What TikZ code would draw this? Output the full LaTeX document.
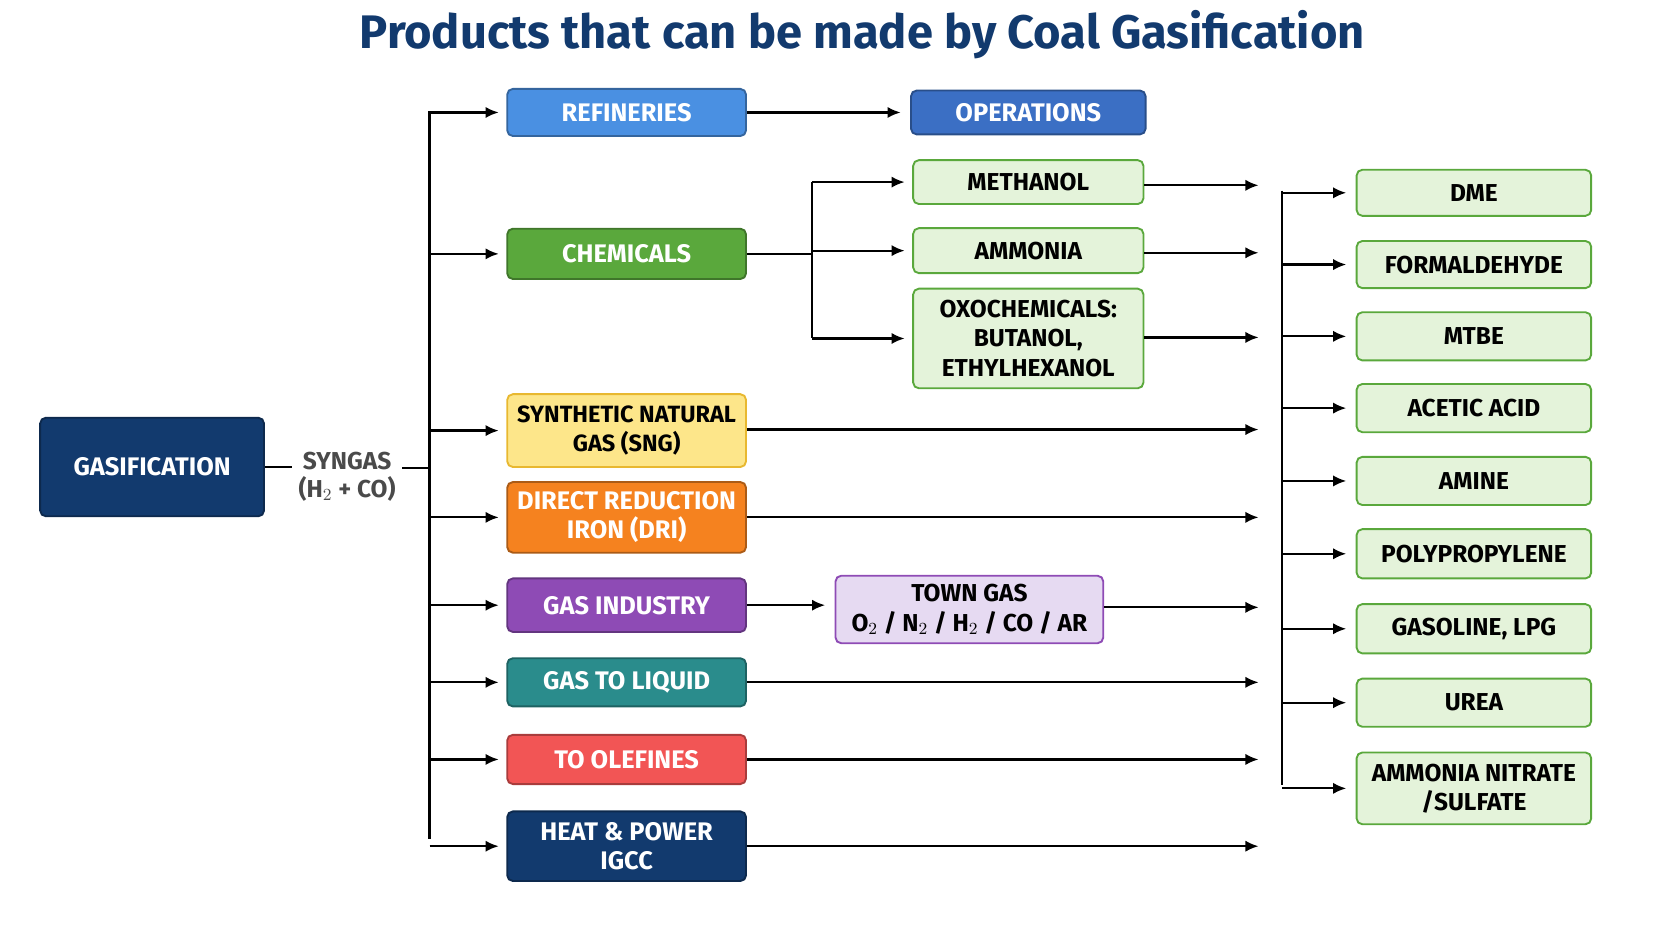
\documentclass[tikz,border=0pt]{standalone}
\usepackage{fontspec}
\setmainfont{Fira Sans}
\usetikzlibrary{arrows.meta}
\definecolor{navy}{HTML}{123A6E}
\definecolor{refblue}{HTML}{4A90E2}
\definecolor{opblue}{HTML}{3B6FC4}
\definecolor{chemgreen}{HTML}{5AA83C}
\definecolor{lightgreen}{HTML}{E4F3DA}
\definecolor{sngyellow}{HTML}{FDE68A}
\definecolor{sngborder}{HTML}{E8B830}
\definecolor{driorange}{HTML}{F5821F}
\definecolor{gaspurple}{HTML}{8E4BB5}
\definecolor{lavender}{HTML}{E6DAF2}
\definecolor{gtlteal}{HTML}{2A8C8C}
\definecolor{olered}{HTML}{F25555}
\definecolor{syngray}{HTML}{4A4A4A}
\tikzset{
  box/.style={draw=#1!70!black, fill=#1, rounded corners=3pt, line width=1pt,
    align=center, inner sep=2pt, font=\fontsize{13.5}{15.5}\selectfont\bfseries, text=white},
  pbox/.style={draw=chemgreen, fill=lightgreen, rounded corners=3pt, line width=1pt,
    align=center, inner sep=2pt, font=\fontsize{13}{15.5}\selectfont\bfseries, text=black},
  arr/.style={-{Latex[length=7pt,width=6pt]}, line width=1.2pt},
  ln/.style={line width=1.2pt},
}
\begin{document}
\begin{tikzpicture}[x=0.02cm,y=-0.02cm]
  \useasboundingbox (0,0) rectangle (1560,878);
  \node[font=\fontsize{25}{29}\selectfont\bfseries, text=navy] (title) at (805,32) {Products that can be made by Coal Gasification};

  % source
  \node[box=navy, minimum width=4.18cm, minimum height=1.84cm] (gas) at (142,436) {GASIFICATION};
  \node[text=syngray, align=center, font=\fontsize{13}{15}\selectfont\bfseries] (syn) at (324,445) {SYNGAS\\(H$_2$ + CO)};
  \coordinate (busA) at (401,437);
  \coordinate (busTop) at (401,104);
  \coordinate (busBot) at (401,783);
  \draw[ln] (gas.east) -- (syn.west |- gas.east);
  \draw[ln] (syn.east |- busA) -- (busA);
  \draw[ln] (busTop) -- (busBot);

  % left column
  \foreach \name/\y/\h/\col/\txt in {
      ref/105/0.88/refblue/REFINERIES,
      chem/237/0.94/chemgreen/CHEMICALS,
      dri/483/1.32/driorange/{DIRECT REDUCTION\\IRON (DRI)},
      gind/565/1.0/gaspurple/GAS INDUSTRY,
      gtl/637/0.9/gtlteal/GAS TO LIQUID,
      ole/709/0.92/olered/TO OLEFINES,
      heat/790/1.3/navy/{HEAT \& POWER\\IGCC}} {
    \node[box=\col, minimum width=4.46cm, minimum height=\h cm] (\name) at (585,\y) {\txt};
    \draw[arr] (busTop |- \name.west) -- ([xshift=-4pt]\name.west);
  }
  \node[box=sngyellow, draw=sngborder, text=black, font=\fontsize{12.5}{15}\selectfont\bfseries, minimum width=4.46cm, minimum height=1.36cm] (sng) at (585,402) {SYNTHETIC NATURAL\\GAS (SNG)};
  \draw[arr] (busTop |- sng.west) -- ([xshift=-4pt]sng.west);

  % second column
  \node[box=opblue, minimum width=4.38cm, minimum height=0.82cm] (oper) at (960,105) {OPERATIONS};
  \draw[arr] (ref.east) -- ([xshift=-5pt]oper.west);
  \node[pbox, minimum width=4.3cm, minimum height=0.82cm] (meth) at (960,170) {METHANOL};
  \node[pbox, minimum width=4.3cm, minimum height=0.84cm] (amm) at (960,234) {AMMONIA};
  \node[pbox, minimum width=4.3cm, minimum height=1.86cm] (oxo) at (960,316) {OXOCHEMICALS:\\BUTANOL,\\ETHYLHEXANOL};
  \coordinate (chemBus) at (758,237);
  \draw[ln] (chem.east) -- (chemBus);
  \draw[ln] (chemBus |- meth.west) -- (chemBus |- oxo.west);
  \foreach \t in {meth,amm,oxo}
    \draw[arr] (chemBus |- \t.west) -- ([xshift=-4pt]\t.west);
  \node[pbox, fill=lavender, draw=gaspurple, minimum width=5cm, minimum height=1.26cm] (town) at (905,569) {TOWN GAS\\O$_2$ / N$_2$ / H$_2$ / CO / AR};
  \draw[arr] (gind.east) -- ([xshift=-5pt]town.west |- gind.east);

  % right bus and products
  \coordinate (rbTop) at (1197,178);
  \coordinate (rbBot) at (1197,733);
  \draw[ln] (rbTop) -- (rbBot);
  \foreach \name/\y/\h/\txt in {
      dme/180/0.86/DME, form/247/0.88/FORMALDEHYDE, mtbe/314/0.9/MTBE,
      acet/381/0.9/ACETIC ACID, amine/449/0.9/AMINE, poly/517/0.92/POLYPROPYLENE,
      gasl/587/0.92/{GASOLINE, LPG}, urea/656/0.9/UREA,
      amni/736/1.34/{AMMONIA NITRATE\\/SULFATE}} {
    \node[pbox, minimum width=4.38cm, minimum height=\h cm] (\name) at (1376,\y) {\txt};
    \draw[arr] (rbTop |- \name.west) -- ([xshift=-5pt]\name.west);
  }

  % long feeds toward the right bus
  \foreach \s/\y in {meth/173,amm/236,oxo/315,sng/401,dri/483,town/567,gtl/637,ole/709,heat/790} {
    \coordinate (end-\s) at (1175,\y);
    \draw[arr] (\s.east |- end-\s) -- (end-\s);
  }
\end{tikzpicture}
\end{document}
